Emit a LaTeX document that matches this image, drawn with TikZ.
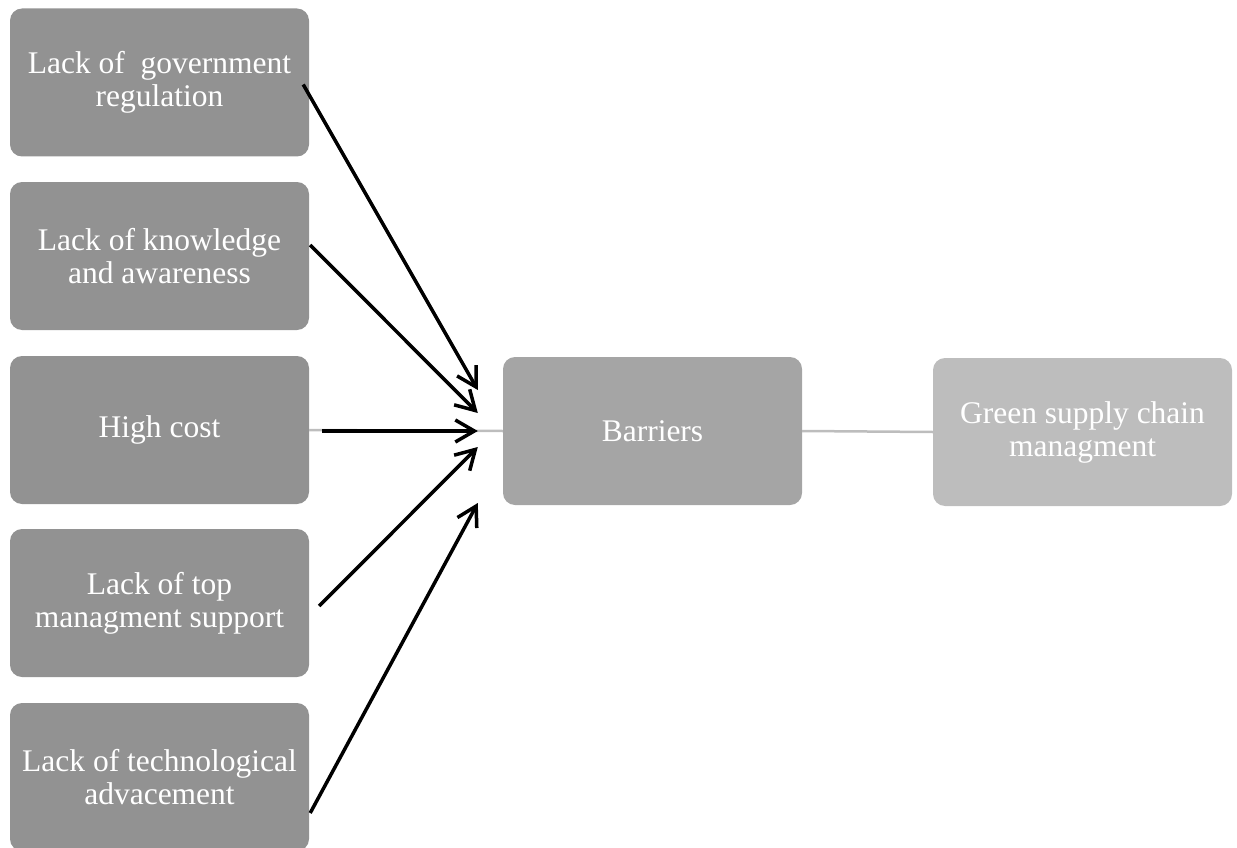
\documentclass[tikz,border=0pt]{standalone}
\usepackage{fontspec}
\setmainfont{Liberation Serif}
\usetikzlibrary{arrows.meta,positioning}
\definecolor{causegray}{HTML}{929292}
\definecolor{barriergray}{HTML}{A5A5A5}
\definecolor{goalgray}{HTML}{BDBDBD}
\tikzset{
  box/.style={rounded corners=12pt, minimum width=299pt, minimum height=148pt, inner sep=0pt,
    text=white, align=center, font=\fontsize{31.5}{33}\selectfont},
  cause/.style={box, fill=causegray},
  link/.style={goalgray, line width=2.5pt},
  barrow/.style={black, line width=3.5pt, -{Straight Barb[length=19pt,width=22pt]}}
}

\begin{document}
\begin{tikzpicture}[x=1pt,y=-1pt]
    \useasboundingbox (0,0) rectangle (1237,848);

    % draw the causes on the left
    \node[cause] (gov) at (159.5,82.5) {Lack of \ government\\regulation};
    \node[cause] (know) at (159.5,256) {Lack of knowledge\\and awareness};
    \node[cause] (cost) at (159.5,430) {High cost};
    \node[cause] (top) at (159.5,603) {Lack of top\\managment support};
    \node[cause] (tech) at (159.5,777) {Lack of technological\\advacement};

    % draw the barriers and the goal
    \node[box, fill=barriergray] (bar) at (652.5,431) {Barriers};
    \node[box, fill=goalgray] (gsc) at (1082.5,432) {Green supply chain\\managment};

    % draw the thin links
    \draw[link] (cost.east) -- (bar.west);
    \draw[link] (bar.east) -- (gsc.west);

    % draw the arrows into the barriers
    \draw[barrow] ([xshift=-6pt,yshift=-2pt]gov.east) -- ([xshift=-25pt,yshift=41pt]bar.west);
    \draw[barrow] ([xshift=1pt,yshift=11pt]know.east) -- ([xshift=-25pt,yshift=18pt]bar.west);
    \draw[barrow] ([xshift=13pt,yshift=-1pt]cost.east) -- ([xshift=-25pt]bar.west);
    \draw[barrow] ([xshift=10pt,yshift=-3pt]top.east) -- ([xshift=-25pt,yshift=-16pt]bar.west);
    \draw[barrow] ([xshift=1pt,yshift=-36pt]tech.east) -- ([xshift=-25pt,yshift=-72pt]bar.west);
\end{tikzpicture}
\end{document}
